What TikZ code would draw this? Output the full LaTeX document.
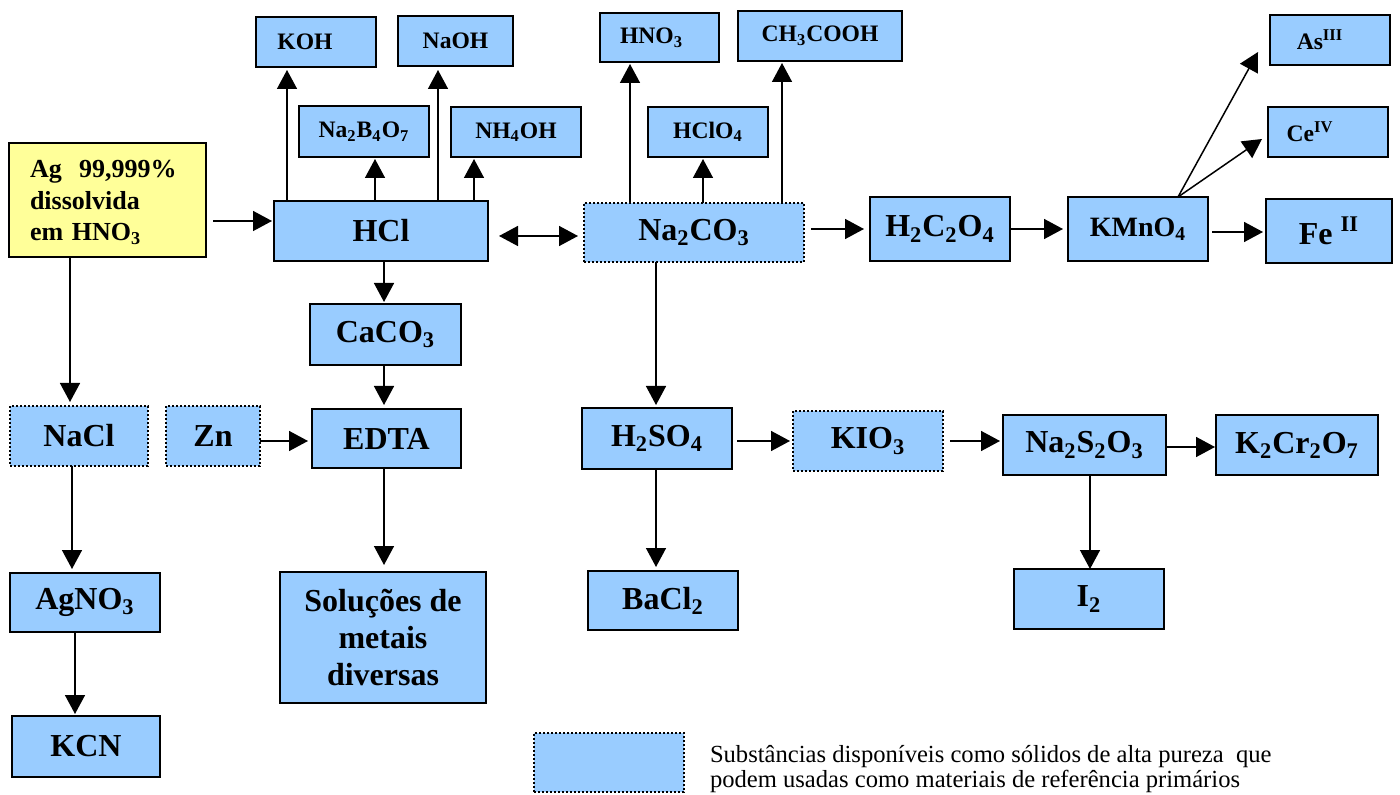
\documentclass[tikz,border=0pt]{standalone}
\usepackage{fontspec}
\setmainfont{Liberation Serif}
\usetikzlibrary{arrows.meta}
\definecolor{boxblue}{HTML}{99CCFF}
\definecolor{boxyellow}{HTML}{FFFF99}
\newcommand{\mkbox}[7]{%
  \node[#6, minimum width={(#4-#2)*0.5pt}, minimum height={(#5-#3)*0.5pt}] (#1) at ({(#2+#4)/2},{(#3+#5)/2}) {#7};}
\begin{document}
\begin{tikzpicture}[x=0.5pt,y=-0.5pt,
  box/.style={draw=black, line width=1pt, fill=boxblue, inner sep=0pt, outer sep=0pt,
    font=\bfseries\fontsize{16}{18.5}\selectfont, align=center},
  sbox/.style={box, font=\bfseries\fontsize{11.8}{14}\selectfont},
  mbox/.style={box, font=\bfseries\fontsize{14}{16}\selectfont},
  dbox/.style={box, dash pattern=on 1pt off 1pt},
  ybox/.style={box, fill=boxyellow, font=\bfseries\fontsize{13}{15.8}\selectfont, align=left, text width=77.5pt},
  legend/.style={inner sep=0pt, outer sep=0pt, align=left, anchor=north west, font=\fontsize{12.3}{12.8}\selectfont},
  arr/.style={-{Triangle[length=9.5pt,width=10pt]}, line width=0.75pt},
  darr/.style={{Triangle[length=9.5pt,width=10pt]}-{Triangle[length=9.5pt,width=10pt]}, line width=0.75pt}]
\useasboundingbox (0,0) rectangle (1400,795);
% boxes
\mkbox{Ag}{9}{143}{206}{257}{ybox}{\rule{0pt}{11pt}Ag\ \ 99,999\%\\dissolvida\\em HNO\textsubscript{3}}
\mkbox{KOH}{256}{17}{376}{67}{sbox}{KOH\hspace{11pt}}
\mkbox{NaOH}{398}{16}{513}{66}{sbox}{NaOH}
\mkbox{NaB}{299}{106}{429}{157}{sbox}{Na\textsubscript{2}B\textsubscript{4}O\textsubscript{7}}
\mkbox{NH}{451}{107}{581}{157}{sbox}{NH\textsubscript{4}OH}
\mkbox{HCl}{274}{201}{488}{261}{box}{HCl}
\mkbox{NaCO}{584}{203}{804}{262}{dbox}{Na\textsubscript{2}CO\textsubscript{3}}
\mkbox{HNO}{600}{13}{719}{62}{sbox}{HNO\textsubscript{3}\hspace{8pt}}
\mkbox{Acet}{738}{11}{902}{61}{sbox}{CH\textsubscript{3}COOH}
\mkbox{HClO}{648}{107}{768}{157}{sbox}{HClO\textsubscript{4}}
\mkbox{HCO}{870}{197}{1010}{261}{box}{H\textsubscript{2}C\textsubscript{2}O\textsubscript{4}}
\mkbox{KMn}{1068}{197}{1208}{261}{mbox}{KMnO\textsubscript{4}}
\mkbox{As}{1270}{15}{1390}{65}{sbox}{As\textsuperscript{III}\hspace{10pt}}
\mkbox{Ce}{1268}{107}{1388}{157}{sbox}{Ce\textsuperscript{IV}\hspace{18pt}}
\mkbox{Fe}{1266}{199}{1392}{263}{box}{Fe~\textsuperscript{II}}
\mkbox{CaCO}{310}{304}{461}{365}{box}{CaCO\textsubscript{3}}
\mkbox{NaCl}{10}{406}{148}{466}{dbox}{NaCl}
\mkbox{Zn}{166}{406}{260}{466}{dbox}{Zn}
\mkbox{EDTA}{312}{409}{461}{468}{box}{EDTA}
\mkbox{HSO}{582}{408}{732}{469}{box}{H\textsubscript{2}SO\textsubscript{4}}
\mkbox{KIO}{793}{411}{943}{471}{dbox}{KIO\textsubscript{3}}
\mkbox{NaSO}{1003}{415}{1166}{475}{box}{Na\textsubscript{2}S\textsubscript{2}O\textsubscript{3}}
\mkbox{KCr}{1216}{415}{1378}{475}{box}{K\textsubscript{2}Cr\textsubscript{2}O\textsubscript{7}}
\mkbox{AgNO}{10}{573}{160}{632}{box}{AgNO\textsubscript{3}}
\mkbox{KCN}{12}{716}{160}{777}{box}{KCN}
\mkbox{Sol}{280}{572}{486}{703}{box}{Soluções de\\metais\\diversas}
\mkbox{BaCl}{588}{571}{738}{630}{box}{BaCl\textsubscript{2}}
\mkbox{I}{1014}{569}{1164}{629}{box}{I\textsubscript{2}}
\mkbox{Leg}{534}{733}{684}{792}{dbox}{}
\node[legend] (LegT) at (710,745) {Substâncias disponíveis como sólidos de alta pureza\ \ que\\podem usadas como materiais de referência primários};
% guide coordinates
\coordinate (g1) at (287,0);
\coordinate (g2) at (375,0);
\coordinate (g3) at (438,0);
\coordinate (g4) at (474,0);
\coordinate (g5) at (630,0);
\coordinate (g6) at (703,0);
\coordinate (g7) at (782,0);
\coordinate (g8) at (384,0);
\coordinate (g9) at (70,0);
\coordinate (g10) at (72,0);
\coordinate (g11) at (75,0);
\coordinate (g12) at (656,0);
\coordinate (g13) at (1090,0);
\coordinate (g14) at (1178,0);
\coordinate (h1) at (0,221);
\coordinate (h2) at (0,236);
\coordinate (h3) at (0,229);
\coordinate (h4) at (0,232);
\coordinate (h5) at (0,441);
\coordinate (h6) at (0,447);
\coordinate (tAs) at (1258,52);
\coordinate (tCe) at (1262,139);
% connectors
\draw[arr, shorten <=3.5pt, shorten >=1pt] (Ag.east |- h1) -- (HCl.west |- h1);
\draw[arr, shorten >=1.5pt] (HCl.north -| g1) -- (KOH.south -| g1);
\draw[arr, shorten >=1pt] (HCl.north -| g2) -- (NaB.south -| g2);
\draw[arr, shorten >=2pt] (HCl.north -| g3) -- (NaOH.south -| g3);
\draw[arr, shorten >=1pt] (HCl.north -| g4) -- (NH.south -| g4);
\draw[darr, shorten <=5.5pt, shorten >=3pt] (HCl.east |- h2) -- (NaCO.west |- h2);
\draw[arr, shorten >=1pt] (NaCO.north -| g5) -- (HNO.south -| g5);
\draw[arr, shorten >=1pt] (NaCO.north -| g6) -- (HClO.south -| g6);
\draw[arr, shorten >=1pt] (NaCO.north -| g7) -- (Acet.south -| g7);
\draw[arr, shorten <=3.5pt, shorten >=3pt] (NaCO.east |- h3) -- (HCO.west |- h3);
\draw[arr, shorten >=2.5pt] (HCO.east |- h3) -- (KMn.west |- h3);
\draw[arr, shorten <=2pt, shorten >=1.5pt] (KMn.east |- h4) -- (Fe.west |- h4);
\draw[arr] (KMn.north -| g14) -- (tAs);
\draw[arr] (KMn.north -| g14) -- (tCe);
\draw[arr, shorten >=1pt] (HCl.south -| g8) -- (CaCO.north -| g8);
\draw[arr, shorten >=2pt] (CaCO.south -| g8) -- (EDTA.north -| g8);
\draw[arr, shorten >=3.5pt] (EDTA.south -| g8) -- (Sol.north -| g8);
\draw[arr, shorten >=2pt] (Zn.east |- h5) -- (EDTA.west |- h5);
\draw[arr, shorten >=2pt] (Ag.south -| g9) -- (NaCl.north -| g9);
\draw[arr, shorten >=2pt] (NaCl.south -| g10) -- (AgNO.north -| g10);
\draw[arr, shorten >=1pt] (AgNO.south -| g11) -- (KCN.north -| g11);
\draw[arr, shorten >=1.5pt] (NaCO.south -| g12) -- (HSO.north -| g12);
\draw[arr, shorten >=2pt] (HSO.south -| g12) -- (BaCl.north -| g12);
\draw[arr, shorten <=2.5pt, shorten >=1.5pt] (HSO.east |- h5) -- (KIO.west |- h5);
\draw[arr, shorten <=3.5pt, shorten >=1.5pt] (KIO.east |- h5) -- (NaSO.west |- h5);
\draw[arr, shorten >=0.5pt] (NaSO.east |- h6) -- (KCr.west |- h6);
\draw[arr] (NaSO.south -| g13) -- (I.north -| g13);
\end{tikzpicture}
\end{document}
